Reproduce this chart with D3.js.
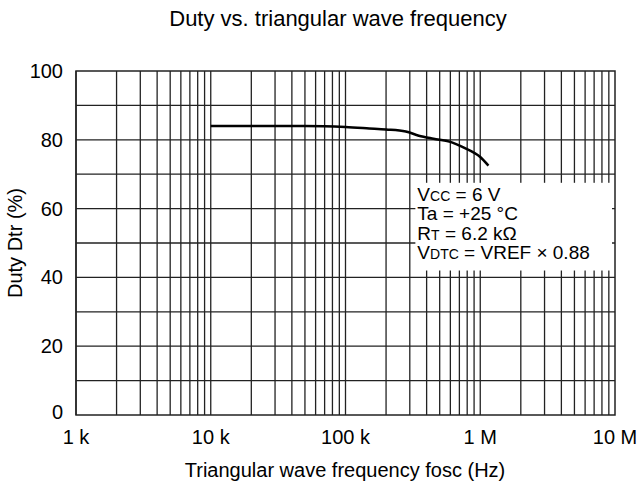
<!DOCTYPE html>
<html>
<head>
<meta charset="utf-8">
<script src="https://cdn.jsdelivr.net/npm/d3@7"></script>
<style>
  body { margin: 0; background: #fff; }
  text { font-family: "Liberation Sans", Arial, sans-serif; fill: #000; }
</style>
</head>
<body>
<div id="chart"></div>
<script>
var svgWidth = 642;
var svgHeight = 484;

// chart values
var freqHz = [10e3, 20e3, 50e3, 100e3, 150e3, 200e3, 280e3, 350e3, 450e3, 600e3, 750e3, 1e6, 1.15e6];
var dutyPct = [84, 84, 84, 83.7, 83.3, 83, 82.4, 81.2, 80.3, 79.4, 77.8, 75, 72.5];

var xTickValues = [1e3, 1e4, 1e5, 1e6, 1e7];
var xTickLabels = ["1 k", "10 k", "100 k", "1 M", "10 M"];
var yTickValues = [0, 20, 40, 60, 80, 100];

// plot area
var margin = { top: 71, right: 27, bottom: 69, left: 76 };
var width = svgWidth - margin.left - margin.right;
var height = svgHeight - margin.top - margin.bottom;

var svg = d3.select("#chart")
  .append("svg")
  .attr("width", svgWidth)
  .attr("height", svgHeight);

var chart = svg.append("g")
  .attr("transform", `translate(${margin.left}, ${margin.top})`);

var xScale = d3.scaleLog().domain([1e3, 1e7]).range([0, width]);
var yScale = d3.scaleLinear().domain([0, 100]).range([height, 0]);

// log grid: 1..9 per decade
var xGrid = [];
for (var dec = 3; dec < 7; dec++) {
  for (var m = 1; m <= 9; m++) xGrid.push(m * Math.pow(10, dec));
}
var yGrid = d3.range(10, 100, 10);

chart.append("g").selectAll("line").data(xGrid).enter()
  .append("line")
  .attr("x1", d => xScale(d)).attr("x2", d => xScale(d))
  .attr("y1", 0).attr("y2", height)
  .attr("stroke", "#222").attr("stroke-width", 1.3);

chart.append("g").selectAll("line").data(yGrid).enter()
  .append("line")
  .attr("x1", 0).attr("x2", width)
  .attr("y1", d => yScale(d)).attr("y2", d => yScale(d))
  .attr("stroke", "#222").attr("stroke-width", 1.3);

// condition box (white, covers the grid)
var boxX = xScale(330e3), boxY = yScale(67.5);
var box = chart.append("g");
box.append("rect")
  .attr("x", boxX)
  .attr("y", boxY)
  .attr("width", width - 3 - boxX)
  .attr("height", yScale(42) - boxY)
  .attr("fill", "#fff");

var condLines = [
  [["V", 19], ["CC", 14], [" = 6 V", 19]],
  [["Ta = +25 °C", 19]],
  [["R", 19], ["T", 14], [" = 6.2 kΩ", 19]],
  [["V", 19], ["DTC", 14], [" = VREF × 0.88", 19]]
];
condLines.forEach(function(parts, i) {
  var t = box.append("text")
    .attr("x", boxX + 2)
    .attr("y", boxY + 18 + i * 19.5);
  parts.forEach(function(p) {
    t.append("tspan").attr("font-size", p[1] + "px").text(p[0]);
  });
});

// frame
chart.append("rect")
  .attr("x", 0).attr("y", 0)
  .attr("width", width).attr("height", height)
  .attr("fill", "none")
  .attr("stroke", "#222").attr("stroke-width", 1.5);

// curve
var line = d3.line()
  .x(d => xScale(d[0]))
  .y(d => yScale(d[1]))
  .curve(d3.curveMonotoneX);

chart.append("path")
  .datum(d3.zip(freqHz, dutyPct))
  .attr("d", line)
  .attr("fill", "none")
  .attr("stroke", "#000")
  .attr("stroke-width", 2.5);

// tick labels
chart.append("g").selectAll("text").data(xTickValues).enter()
  .append("text")
  .attr("x", d => xScale(d))
  .attr("y", height + 29)
  .attr("text-anchor", "middle")
  .attr("font-size", "20px")
  .text((d, i) => xTickLabels[i]);

chart.append("g").selectAll("text").data(yTickValues).enter()
  .append("text")
  .attr("x", -13)
  .attr("y", d => yScale(d) + 7 - (d === 0 ? 3 : 0))
  .attr("text-anchor", "end")
  .attr("font-size", "20px")
  .text(d => d);

// titles
svg.append("text")
  .attr("x", 338)
  .attr("y", 26)
  .attr("text-anchor", "middle")
  .attr("font-size", "22px")
  .text("Duty vs. triangular wave frequency");

svg.append("text")
  .attr("x", 345)
  .attr("y", 477)
  .attr("text-anchor", "middle")
  .attr("font-size", "20px")
  .text("Triangular wave frequency fosc (Hz)");

svg.append("text")
  .attr("transform", `translate(22, ${margin.top + height / 2}) rotate(-90)`)
  .attr("text-anchor", "middle")
  .attr("font-size", "20px")
  .text("Duty Dtr (%)");
</script>
</body>
</html>
